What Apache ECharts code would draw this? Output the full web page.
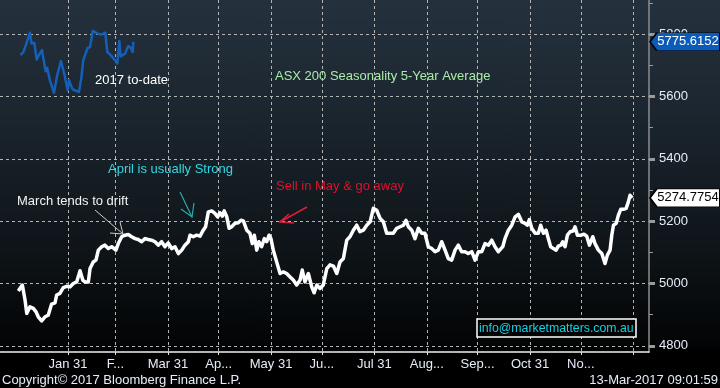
<!DOCTYPE html>
<html>
<head>
<meta charset="utf-8">
<script src="https://cdn.jsdelivr.net/npm/echarts@6/dist/echarts.min.js"></script>
<style>
html,body{margin:0;padding:0;width:720px;height:388px;overflow:hidden;
background:linear-gradient(180deg,#24313d 0px,#1b252e 120px,#0e1418 250px,#030405 345px,#000 352px,#000 388px);}
#c{width:720px;height:388px;}
</style>
</head>
<body>
<div id="c"></div>
<script>
// Month-end positions (day of year) and their axis labels
const monthEnds = [31,59,90,120,151,181,212,243,273,304,334,365];
const monthLabels = ["Jan 31","F...","Mar 31","Ap...","May 31","Ju...","Jul 31","Aug...","Sep...","Oct 31","No...",""];
const yMajor = [4800,5000,5200,5400,5600,5800];
const yMinor = [4900,5100,5300,5500,5700,5900];

// ASX 200 seasonality 5-year average (day of year, index level)
const avgDay = [1.6,4.0,5.6,6.6,8.5,10.5,12.1,13.4,15.4,17.4,
19.3,21.3,23.3,24.3,26.2,28.2,30.2,32.2,34.1,36.1,
38.1,39.7,41.0,43.0,44.0,45.9,47.5,48.9,50.9,52.8,
54.8,56.8,59.3,60.7,62.7,64.7,66.6,68.6,70.6,72.5,
74.5,76.5,78.4,80.4,82.4,84.3,86.3,88.3,90.2,92.3,
94.2,96.2,98.2,100.1,102.1,103.1,105.0,107.0,109.0,110.9,
112.3,113.9,115.9,117.8,119.4,120.8,122.2,123.3,124.8,126.2,
127.7,129.7,131.6,133.2,134.6,136.6,138.5,139.9,141.1,142.5,
143.8,145.4,147.0,148.4,149.8,150.9,152.3,154.3,156.3,158.2,
160.2,162.2,164.1,166.1,168.1,169.4,171.0,173.0,175.0,176.4,
178.0,179.9,181.8,183.9,185.8,187.8,189.8,191.7,193.7,195.7,
197.6,199.6,201.6,203.5,205.5,207.5,209.5,211.4,213.4,215.4,
217.3,219.3,221.3,223.2,225.2,227.2,229.2,230.7,232.1,234.1,
236.0,238.0,240.0,241.9,243.9,245.9,247.9,249.8,251.8,253.8,
255.7,257.7,259.7,261.6,263.6,265.6,267.5,269.6,271.5,273.5,
275.5,277.4,279.4,281.4,283.3,285.3,287.9,289.2,291.2,293.2,
295.2,297.1,299.1,301.1,302.4,303.6,305.0,307.0,308.9,310.3,
311.9,313.5,314.8,316.2,317.8,319.4,320.7,322.2,323.3,324.7,
326.1,327.7,329.6,330.6,332.0,334.0,335.9,337.5,339.1,341.1,
342.4,344.4,346.4,348.3,349.7,351.3,352.3,353.3,354.9,356.2,
357.6,359.2,360.8,362.1,363.1,364.4];
const avgValue = [4976,4995,4947,4904,4925,4920,4909,4893,4880,4893,
4898,4934,4938,4963,4968,4987,4991,4989,5000,5005,
5041,5011,5005,5005,5048,5069,5075,5107,5118,5123,
5112,5118,5107,5128,5150,5155,5157,5150,5144,5141,
5134,5144,5141,5139,5134,5123,5134,5118,5130,5112,
5118,5096,5107,5123,5134,5155,5150,5155,5152,5171,
5182,5230,5233,5225,5214,5227,5216,5233,5214,5177,
5182,5193,5195,5203,5201,5171,5161,5128,5155,5107,
5134,5118,5144,5134,5155,5144,5107,5069,5032,5037,
5032,5021,5011,4995,5011,5043,5005,5032,4989,4970,
4995,4984,4995,5048,5060,5056,5032,5069,5080,5139,
5150,5171,5187,5166,5171,5187,5198,5241,5235,5209,
5198,5161,5161,5161,5177,5182,5187,5203,5182,5171,
5144,5177,5161,5161,5118,5112,5102,5107,5134,5107,
5080,5075,5107,5123,5102,5102,5096,5102,5075,5102,
5102,5128,5123,5139,5118,5102,5118,5144,5171,5187,
5214,5222,5198,5193,5187,5205,5177,5161,5161,5187,
5161,5171,5144,5118,5112,5107,5120,5123,5134,5118,
5155,5166,5169,5182,5155,5155,5158,5152,5123,5150,
5128,5107,5096,5064,5091,5107,5155,5187,5193,5219,
5238,5238,5241,5262,5283,5274.7754];

// 2017 to-date
const ytdDay = [3.0,4.6,6.1,8.5,9.5,11.1,12.5,14.0,15.6,16.8,
17.8,18.7,20.3,22.7,24.6,26.8,29.0,30.8,31.6,32.6,
33.7,36.1,37.5,38.8,40.0,42.6,44.0,45.6,46.5,48.5,
50.5,51.8,53.0,54.2,56.2,58.7,60.1,61.3,62.1,64.7,
65.8,66.6,68.2,69.2,69.6];
const ytdValue = [5733,5743,5765,5805,5770,5772,5719,5735,5749,5711,
5681,5692,5652,5612,5668,5714,5668,5620,5652,5648,
5623,5618,5615,5658,5717,5756,5759,5811,5816,5802,
5799,5802,5805,5743,5733,5717,5706,5778,5729,5738,
5743,5762,5756,5743,5775.6152];

const X_MIN = -9.2, X_MAX = 374.3, Y_MIN = 4780, Y_MAX = 5910;
const FONT = "'Liberation Sans', Arial, sans-serif";
const LABEL_COLOR = '#e6edf8';

const zip = (a, b) => a.map((d, i) => [d, b[i]]);
const avgData = zip(avgDay, avgValue);
const ytdData = zip(ytdDay, ytdValue);

function lastTag(value, fill, textColor) {
  return {
    silent: true,
    z: 20,
    animation: false,
    data: [{
      coord: [X_MAX, value],
      value: value,
      symbol: 'path://M0,9L7,0L72,0L72,18L7,18Z',
      symbolSize: [70, 18],
      symbolKeepAspect: false,
      symbolOffset: [36, 0],
      itemStyle: { color: fill, borderColor: '#000', borderWidth: 1 },
      label: {
        show: true, position: 'inside', offset: [3, 0],
        color: textColor, fontSize: 13, fontFamily: FONT,
        formatter: () => value.toFixed(4)
      }
    }]
  };
}

const chart = echarts.init(document.getElementById('c'), null, { renderer: 'canvas' });

function arrow(shaft, head1, head2, color, w) {
  const tip = shaft[1];
  return [
    { type: 'polyline', z: 30, silent: true, shape: { points: shaft }, style: { stroke: color, lineWidth: w, fill: null } },
    { type: 'polyline', z: 30, silent: true, shape: { points: [head1, tip, head2] }, style: { stroke: color, lineWidth: w, fill: null } }
  ];
}

const textStyle = (txt, x, y, color, align, size) => ({
  type: 'text', z: 30, silent: true, x: x, y: y,
  style: { text: txt, fill: color, font: (size || 13) + 'px ' + FONT, textVerticalAlign: 'middle', textAlign: align || 'left' }
});

const option = {
  animation: false,
  backgroundColor: 'transparent',
  grid: { left: 0, right: 71, top: 0, bottom: 36, containLabel: false, outerBoundsMode: 'none' },
  xAxis: {
    type: 'value', min: X_MIN, max: X_MAX,
    axisLine: { show: true, onZero: false, lineStyle: { color: '#f0f0f0', width: 1.5 } },
    axisTick: { show: true, customValues: monthEnds, length: 3, lineStyle: { color: '#e0e0e0' } },
    axisLabel: {
      show: true, customValues: monthEnds, margin: 6,
      color: LABEL_COLOR, fontSize: 13, fontFamily: FONT,
      formatter: v => { const i = monthEnds.indexOf(v); return i >= 0 ? monthLabels[i] : ''; }
    },
    splitLine: { show: true, lineStyle: { color: '#b4b4b4', width: 1, type: [3, 3] } }
  },
  yAxis: [{
    type: 'value', position: 'right', min: Y_MIN, max: Y_MAX,
    axisLine: { show: true, onZero: false, lineStyle: { color: '#8c8c8c', width: 1.5 } },
    axisTick: { show: true, customValues: yMajor, length: 6, lineStyle: { color: '#9a9a9a', width: 3 } },
    axisLabel: { show: true, customValues: yMajor, margin: 10, color: LABEL_COLOR, fontSize: 13, fontFamily: FONT,
      formatter: v => String(v) },
    splitLine: { show: true, lineStyle: { color: '#b4b4b4', width: 1, type: [3, 3] } }
  }, {
    type: 'value', position: 'right', min: Y_MIN, max: Y_MAX,
    axisLine: { show: false, onZero: false },
    axisTick: { show: true, customValues: yMinor, length: 4, lineStyle: { color: '#9a9a9a', width: 1 } },
    axisLabel: { show: false },
    splitLine: { show: false }
  }],
  series: [{
    name: 'ASX 200 Seasonality 5-Year Average',
    type: 'line', data: avgData, yAxisIndex: 0,
    showSymbol: false, symbol: 'none', clip: false,
    lineStyle: { color: '#ffffff', width: 3.5, join: 'round' },
    z: 5,
    markPoint: lastTag(avgValue[avgValue.length - 1], '#ffffff', '#000000')
  }, {
    name: '2017 to-date',
    type: 'line', data: ytdData, yAxisIndex: 0,
    showSymbol: false, symbol: 'none', clip: false,
    lineStyle: { color: '#155fb8', width: 2.5, join: 'round' },
    z: 4,
    markPoint: lastTag(ytdValue[ytdValue.length - 1], '#0b5cb8', '#ffffff')
  }],
  graphic: [
    textStyle('ASX 200 Seasonality 5-Year Average', 275, 76, '#a8eca8'),
    textStyle('2017 to-date', 95, 80, '#ffffff'),
    textStyle('March tends to drift', 17, 201, '#f2f2f2'),
    textStyle('April is usually Strong', 108, 169, '#36d6e0'),
    textStyle('Sell in May & go away', 276, 186, '#e0102c'),
    ...arrow([[95, 210], [123, 234]], [110, 233], [120, 222], '#cfcfcf', 1),
    ...arrow([[180, 192], [192, 217]], [181, 209], [194, 203], '#2fa8aa', 1.2),
    ...arrow([[307, 207], [280, 222]], [289, 214], [294, 223], '#d8203c', 1.5),
    { type: 'rect', z: 30, silent: true, shape: { x: 477, y: 319, width: 159, height: 18 },
      style: { fill: '#000', stroke: '#ffffff', lineWidth: 1.5 } },
    textStyle('info@marketmatters.com.au', 479, 328.5, '#14d2e2', 'left', 12.3),
    textStyle('Copyright\u00a9 2017 Bloomberg Finance L.P.', 2, 380, '#e6edf8'),
    textStyle('13-Mar-2017 09:01:59', 718, 380, '#e6edf8', 'right')
  ]
};
chart.setOption(option);
</script>
</body>
</html>
